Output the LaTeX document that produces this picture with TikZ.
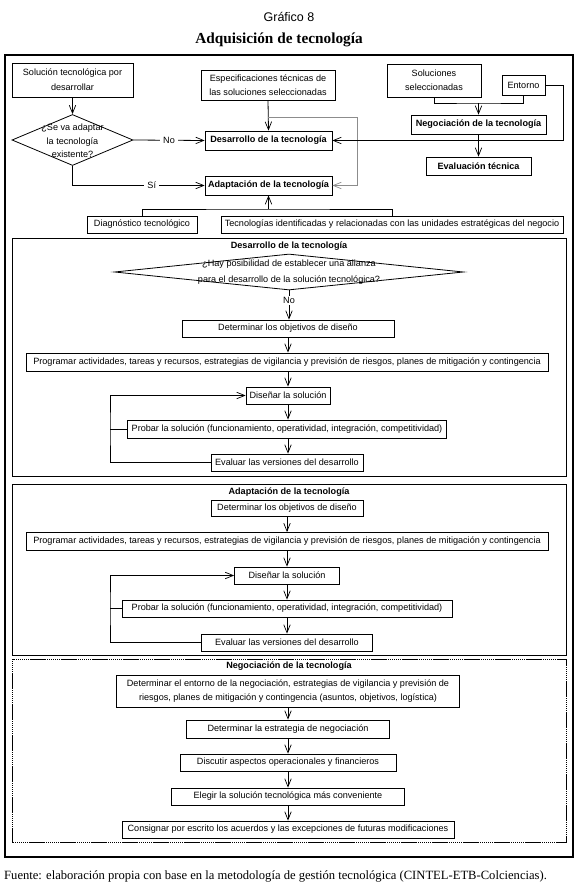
\documentclass[tikz,border=0pt]{standalone}
\usepackage{fontspec}
\setmainfont{Liberation Serif}
\setsansfont{Liberation Sans}
\usetikzlibrary{arrows.meta,shapes.geometric}
\begin{document}
\begin{tikzpicture}[x=1pt,y=-1pt,
  txt/.style={font=\sffamily\fontsize{9.1}{13.5}\selectfont, inner sep=0pt, align=center},
  box/.style={draw, line width=0.8pt, inner sep=1pt, txt},
  bbox/.style={box, font=\sffamily\bfseries\fontsize{9.1}{13.5}\selectfont},
  ttl/.style={font=\sffamily\bfseries\fontsize{9.1}{13.5}\selectfont, inner sep=0pt},
  dmd/.style={draw, line width=0.8pt, diamond, inner sep=0pt},
  sect/.style={draw, line width=0.8pt},
  arr/.style={-{Straight Barb[length=8pt,width=6.5pt,line width=0.7pt]}, line width=0.8pt},
  ln/.style={line width=0.8pt},
  lbl/.style={txt, fill=white, inner sep=3pt}
]
\useasboundingbox (0,0) rectangle (578,890);
% titles
\node[font=\sffamily\fontsize{12.5}{14}\selectfont] (g8) at (289,17) {Gráfico 8};
\node[font=\bfseries\fontsize{15.3}{17}\selectfont] (tit) at (279,40) {Adquisición de tecnología};
% outer frame
\draw[line width=2.5pt] (5,55) rectangle (573,857);
% top section
\node[box, minimum width=121, minimum height=34, font=\sffamily\fontsize{9.1}{15}\selectfont] (sol) at (72.5,80) {Solución tecnológica por\\desarrollar};
\node[box, minimum width=134, minimum height=30] (espec) at (268,85) {Especificaciones técnicas de\\las soluciones seleccionadas};
\node[box, minimum width=94, minimum height=33] (solsel) at (434,80.5) {Soluciones\\seleccionadas};
\node[box, minimum width=43, minimum height=20] (entorno) at (523.5,85) {Entorno};
\node[dmd, minimum width=121, minimum height=51] (q1) at (72.5,140) {};
\node[txt] (q1t) at (72.5,141) {¿Se va adaptar\\la tecnología\\existente?};
\node[bbox, minimum width=127, minimum height=19] (desarr) at (268.5,140.5) {Desarrollo de la tecnología};
\node[bbox, minimum width=135, minimum height=19] (neg) at (478.5,124.5) {Negociación de la tecnología};
\node[bbox, minimum width=105, minimum height=18] (evalt) at (478.5,166) {Evaluación técnica};
\node[bbox, minimum width=127, minimum height=19] (adapt) at (268.5,185.5) {Adaptación de la tecnología};
\node[box, minimum width=110, minimum height=17] (diag) at (142,224.5) {Diagnóstico tecnológico};
\node[box, minimum width=342, minimum height=17] (tecid) at (392,224.5) {Tecnologías identificadas y relacionadas con las unidades estratégicas del negocio};
% top connectors
\draw[arr] (sol.south) -- (q1.north);
\draw[arr] (q1.east) -- node[lbl]{No} (desarr.west);
\draw[arr] (q1.south) |- node[lbl, pos=0.8]{Sí} (adapt.west);
\draw[arr] (espec.south) -- (desarr.north);
\coordinate (gA) at (268,117);
\coordinate (gB) at (357,117);
\draw[arr, draw=black!45] (gA) -- (gB) |- (adapt.east);
\coordinate (jM) at (478.5,103);
\draw[ln] (solsel.south) |- (jM) -| (entorno.south);
\draw[arr] (jM) -- (neg.north);
\draw[arr] (entorno.east) -- ++(18,0) |- (desarr.east);
\draw[arr] (neg.south) -- (evalt.north);
\coordinate (jD) at (268.5,209);
\draw[ln] (diag.north) |- (jD) -| (tecid.north);
\draw[arr] (jD) -- (adapt.south);
% section 1
\draw[sect] (12,238) rectangle (566,476);
\node[ttl] (t1) at (289,246) {Desarrollo de la tecnología};
\node[dmd, minimum width=349, minimum height=36] (q2) at (289,272) {};
\node[txt, font=\sffamily\fontsize{9.1}{16}\selectfont] (q2t) at (289,272) {¿Hay posibilidad de establecer una alianza\\para el desarrollo de la solución tecnológica?};
\node[box, minimum width=212, minimum height=17] (obj1) at (288,328.5) {Determinar los objetivos de diseño};
\node[box, minimum width=522, minimum height=18] (prog1) at (287,362) {Programar actividades, tareas y recursos, estrategias de vigilancia y previsión de riesgos, planes de mitigación y contingencia};
\node[box, minimum width=84, minimum height=17] (dis1) at (288,395.5) {Diseñar la solución};
\node[box, minimum width=319, minimum height=18] (prob1) at (287,429) {Probar la solución (funcionamiento, operatividad, integración, competitividad)};
\node[box, minimum width=152, minimum height=17] (eval1) at (287,462.5) {Evaluar las versiones del desarrollo};
\draw[arr] (q2.south) -- node[lbl, pos=0.35, inner sep=1pt]{No} (q2.south |- obj1.north);
\draw[arr] (obj1.south) -- (obj1.south |- prog1.north);
\draw[arr] (dis1.south |- prog1.south) -- (dis1.north);
\draw[arr] (dis1.south) -- (dis1.south |- prob1.north);
\draw[arr] (dis1.south |- prob1.south) -- (dis1.south |- eval1.north);
\coordinate (L1) at (110,429);
\draw[arr] (eval1.west) -| (L1) |- (dis1.west);
\draw[ln] (prob1.west) -- (L1);
% section 2
\draw[sect] (12,484) rectangle (566,655);
\node[ttl] (t2) at (289,492) {Adaptación de la tecnología};
\node[box, minimum width=152, minimum height=16] (obj2) at (287,508) {Determinar los objetivos de diseño};
\node[box, minimum width=522, minimum height=18] (prog2) at (287,541.5) {Programar actividades, tareas y recursos, estrategias de vigilancia y previsión de riesgos, planes de mitigación y contingencia};
\node[box, minimum width=105, minimum height=17] (dis2) at (287,575.5) {Diseñar la solución};
\node[box, minimum width=330, minimum height=17] (prob2) at (287,608.5) {Probar la solución (funcionamiento, operatividad, integración, competitividad)};
\node[box, minimum width=171, minimum height=17] (eval2) at (287,642.5) {Evaluar las versiones del desarrollo};
\draw[arr] (obj2.south) -- (obj2.south |- prog2.north);
\draw[arr] (obj2.south |- prog2.south) -- (dis2.north);
\draw[arr] (dis2.south) -- (dis2.south |- prob2.north);
\draw[arr] (dis2.south |- prob2.south) -- (dis2.south |- eval2.north);
\coordinate (L2) at (110,608.5);
\draw[arr] (eval2.west) -| (L2) |- (dis2.west);
\draw[ln] (prob2.west) -- (L2);
% section 3
\draw[sect, dash pattern=on 1pt off 1pt on 1pt off 1pt on 1pt off 1pt on 1pt off 1pt on 1pt off 1pt on 1pt off 1pt on 1pt off 1pt on 16pt off 1pt] (12,659) rectangle (566,842);
\node[ttl] (t3) at (289,666) {Negociación de la tecnología};
\node[box, minimum width=343, minimum height=32] (det) at (288,691) {Determinar el entorno de la negociación, estrategias de vigilancia y previsión de\\riesgos, planes de mitigación y contingencia (asuntos, objetivos, logística)};
\node[box, minimum width=203, minimum height=18] (est) at (288,729) {Determinar la estrategia de negociación};
\node[box, minimum width=216, minimum height=17] (disc) at (288,762.5) {Discutir aspectos operacionales y financieros};
\node[box, minimum width=233, minimum height=17] (eleg) at (288,796.5) {Elegir la solución tecnológica más conveniente};
\node[box, minimum width=332, minimum height=17] (cons) at (288,829.5) {Consignar por escrito los acuerdos y las excepciones de futuras modificaciones};
\draw[arr] (det.south) -- (est.north);
\draw[arr] (est.south) -- (disc.north);
\draw[arr] (disc.south) -- (eleg.north);
\draw[arr] (eleg.south) -- (cons.north);
% source
\node[anchor=west, font=\fontsize{12.6}{14}\selectfont, inner sep=0pt] (src) at (4,876) {Fuente: elaboración propia con base en la metodología de gestión tecnológica (CINTEL-ETB-Colciencias).};
\end{tikzpicture}
\end{document}
